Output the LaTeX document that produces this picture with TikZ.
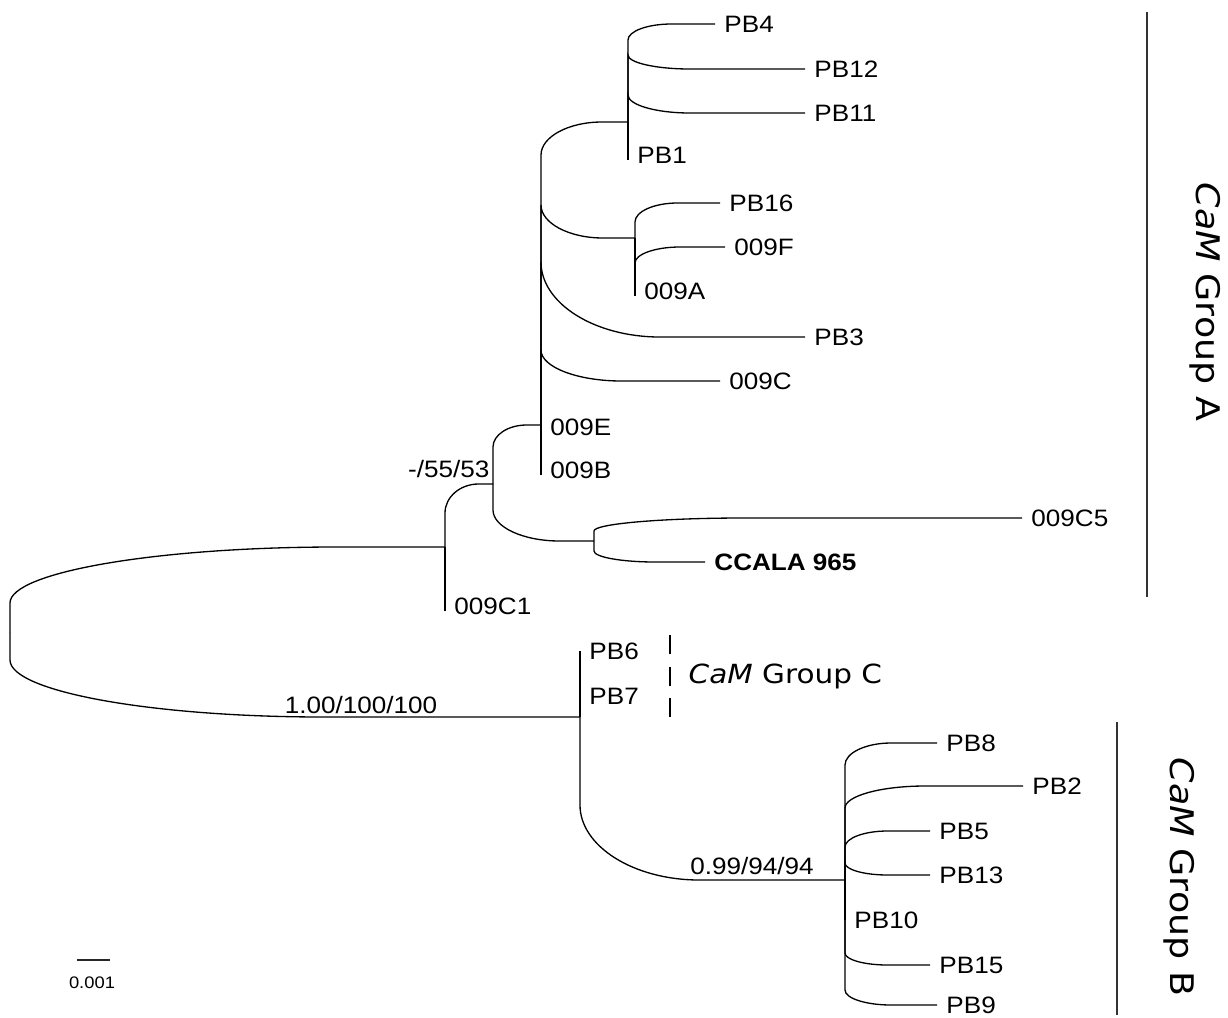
\documentclass[tikz,border=0pt]{standalone}
\usepackage{fontspec}
\setmainfont{Liberation Sans}[FakeStretch=1.1]
\newfontfamily\groupfont{DejaVu Sans}[FakeStretch=1.12]
\usetikzlibrary{calc}

\begin{document}
\begin{tikzpicture}[
  x=0.02cm, y=-0.02cm, line width=0.75pt,
  branch/.style 2 args={to path={-- ($(\tikztostart |- \tikztotarget)+(0,#1)$) coordinate (bs)
      .. controls ($(bs)!0.55!(\tikztostart |- \tikztotarget)$) and ($(\tikztostart |- \tikztotarget)!{0.45*#2}!(\tikztotarget)$)
      .. ($(\tikztostart |- \tikztotarget)!#2!(\tikztotarget)$) -- (\tikztotarget)}},
  stub/.style={shorten >=2pt},
  leaf/.style={anchor=west, inner xsep=5pt, inner ysep=1pt, font=\fontsize{13.5}{16}\selectfont},
  support/.style={inner sep=0pt, font=\fontsize{13.5}{16}\selectfont},
  grouplabel/.style={inner sep=0pt, font=\groupfont\fontsize{18.5}{22}\selectfont},
  groupbar/.style={line width=1.1pt, black!80},
]
\useasboundingbox (0,0) rectangle (1228,1018);

% internal nodes
\coordinate (root) at (10,632);
\coordinate (pA) at (445,547);
\coordinate (p1) at (493,484);
\coordinate (p2) at (541,425);
\coordinate (pCC) at (594,541);
\coordinate (pPB) at (628,122);
\coordinate (pF) at (635,238);
\coordinate (pBC) at (580,717);
\coordinate (pB) at (845,880);

% tips
\node[leaf] (PB4) at (715,24) {PB4};
\node[leaf] (PB12) at (805,69) {PB12};
\node[leaf] (PB11) at (805,113) {PB11};
\node[leaf] (PB1) at (628,155) {PB1};
\node[leaf] (PB16) at (720,203) {PB16};
\node[leaf] (S9F) at (725,247) {009F};
\node[leaf] (S9A) at (635,291) {009A};
\node[leaf] (PB3) at (805,337) {PB3};
\node[leaf] (S9C) at (720,381) {009C};
\node[leaf] (S9E) at (541,427) {009E};
\node[leaf] (S9B) at (541,470) {009B};
\node[leaf] (S9C5) at (1022,518) {009C5};
\node[leaf, font=\fontsize{13.5}{16}\selectfont\bfseries] (CCALA) at (705,562) {CCALA 965};
\node[leaf] (S9C1) at (445,606) {009C1};
\node[leaf] (PB6) at (580,651) {PB6};
\node[leaf] (PB7) at (580,696) {PB7};
\node[leaf] (PB8) at (937,743) {PB8};
\node[leaf] (PB2) at (1023,786) {PB2};
\node[leaf] (PB5) at (930,831) {PB5};
\node[leaf] (PB13) at (930,875) {PB13};
\node[leaf] (PB10) at (845,920) {PB10};
\node[leaf] (PB15) at (930,965) {PB15};
\node[leaf, inner ysep=0pt] (PB9) at (937,1005) {PB9};

% branches
\draw (root) to[branch={56}{0.75}] (pA);
\draw (root) to[branch={-57}{0.55}] (pBC);
\draw (pA) to[branch={29}{0.7}] (p1);
\draw[stub] (pA) -- (pA |- S9C1.base);
\draw (p1) to[branch={22}{0.7}] (p2);
\draw (p1) to[branch={-31}{0.66}] (pCC);
\draw (pCC) to[branch={13}{0.35}] (S9C5.west);
\draw (pCC) to[branch={-11}{0.55}] (CCALA.west);
\draw (p2) to[branch={33}{0.7}] (pPB);
\draw (p2) to[branch={-33}{0.66}] (pF);
\draw (p2) to[branch={-75}{0.45}] (PB3.west);
\draw (p2) to[branch={-31}{0.45}] (S9C.west);
\draw[stub] (p2) -- (p2 |- S9E.base);
\draw[stub] (p2) -- (p2 |- S9B.base);
\draw (pPB) to[branch={16}{0.5}] (PB4.west);
\draw (pPB) to[branch={-14}{0.35}] (PB12.west);
\draw (pPB) to[branch={-18}{0.35}] (PB11.west);
\draw[stub] (pPB) -- (pPB |- PB1.base);
\draw (pF) to[branch={19}{0.5}] (PB16.west);
\draw (pF) to[branch={16}{0.5}] (S9F.west);
\draw[stub] (pF) -- (pF |- S9A.base);
\draw (pBC) -- (pBC |- PB6.west);
\draw (pBC) -- (pBC |- PB7.west);
\draw (pBC) to[branch={-75}{0.45}] (pB);
\draw (pB) to[branch={22}{0.5}] (PB8.west);
\draw (pB) to[branch={22}{0.45}] (PB2.west);
\draw (pB) to[branch={16}{0.5}] (PB5.west);
\draw (pB) to[branch={-12}{0.5}] (PB13.west);
\draw (pB) -- (pB |- PB10.west);
\draw (pB) to[branch={-12}{0.5}] (PB15.west);
\draw (pB) to[branch={-15}{0.5}] (PB9.west);

% support values
\node[support, anchor=east] (supA) at (490,469) {-/55/53};
\node[support] (supR) at (361,705) {1.00/100/100};
\node[support] (supB) at (752,866) {0.99/94/94};

% groups
\draw[groupbar] (1147,12) -- (1147,597);
\node[grouplabel, rotate=-90] (grpA) at (1205,302) {\textit{CaM} Group A};
\draw[groupbar] (1117,722) -- (1117,1015);
\node[grouplabel, rotate=-90] (grpB) at (1179,877) {\textit{CaM} Group B};
\draw[dash pattern=on 11pt off 7pt] (670,635) -- (670,717);
\node[grouplabel, font=\groupfont\fontsize{15}{18}\selectfont, anchor=base west] (grpC) at (688,683) {\textit{CaM} Group C};

% scale
\draw[line width=1.1pt, black!85] (77,960) -- (110,960);
\node[inner sep=0pt, font=\fontsize{9.5}{11}\selectfont] (scale) at (92,983) {0.001};
\end{tikzpicture}
\end{document}
